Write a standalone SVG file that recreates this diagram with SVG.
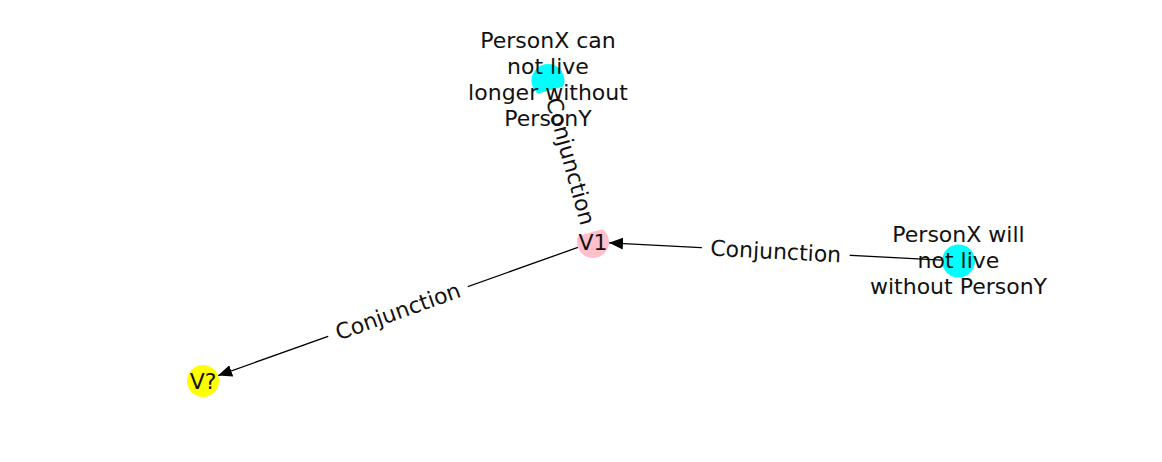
<svg xmlns="http://www.w3.org/2000/svg" width="1162" height="462" viewBox="0 0 1162 462">
<style>
text{font-family:"DejaVu Sans","Liberation Sans",sans-serif;font-size:22px;fill:#111;text-anchor:middle}
.edge{stroke:#000;stroke-width:1.3;fill:none}
.lblbox{fill:#fff;stroke:#fff}
</style>
<defs>
<marker id="arr" markerUnits="userSpaceOnUse" markerWidth="15" markerHeight="12" refX="14" refY="6" orient="auto" viewBox="0 0 15 12">
<path d="M0,0 L14,6 L0,12 Z" fill="#000"/>
</marker>
</defs>
<rect width="1162" height="462" fill="#fff"/>
<g id="edges">
<line class="edge" x1="552.4" y1="96.4" x2="588.7" y2="226.6" marker-end="url(#arr)"/>
<line class="edge" x1="942" y1="260.1" x2="609" y2="242.8" marker-end="url(#arr)"/>
<line class="edge" x1="577.9" y1="247.4" x2="218.1" y2="375.6" marker-end="url(#arr)"/>
</g>
<g id="node-top"><circle cx="548" cy="80.5" r="16.5" fill="#00ffff"/></g>
<g id="node-v1"><circle cx="593" cy="242" r="16" fill="#ffc0cb"/></g>
<g id="node-right"><circle cx="958.5" cy="261" r="16.5" fill="#00ffff"/></g>
<g id="node-vq"><circle cx="203" cy="381" r="16" fill="#ffff00"/></g>
<g id="edge-labels">
<g transform="translate(570.5,161.25) rotate(74.43)"><rect class="lblbox" x="-73.5" y="-19.5" width="147" height="39" rx="6.6"/><text x="0" y="7.5">Conjunction</text></g>
<g transform="translate(775.75,251.5) rotate(2.98)"><rect class="lblbox" x="-73.5" y="-19.5" width="147" height="39" rx="6.6"/><text x="0" y="7.5">Conjunction</text></g>
<g transform="translate(398,311.5) rotate(-19.6)"><rect class="lblbox" x="-73.5" y="-19.5" width="147" height="39" rx="6.6"/><text x="0" y="7.5">Conjunction</text></g>
</g>
<g id="node-labels">
<text x="548" y="48">PersonX can</text>
<text x="548" y="74">not live</text>
<text x="548" y="100">longer without</text>
<text x="548" y="126">PersonY</text>
<text x="593" y="250">V1</text>
<text x="958.5" y="242">PersonX will</text>
<text x="958.5" y="268">not live</text>
<text x="958.5" y="294">without PersonY</text>
<text x="203" y="389">V?</text>
</g>
</svg>
